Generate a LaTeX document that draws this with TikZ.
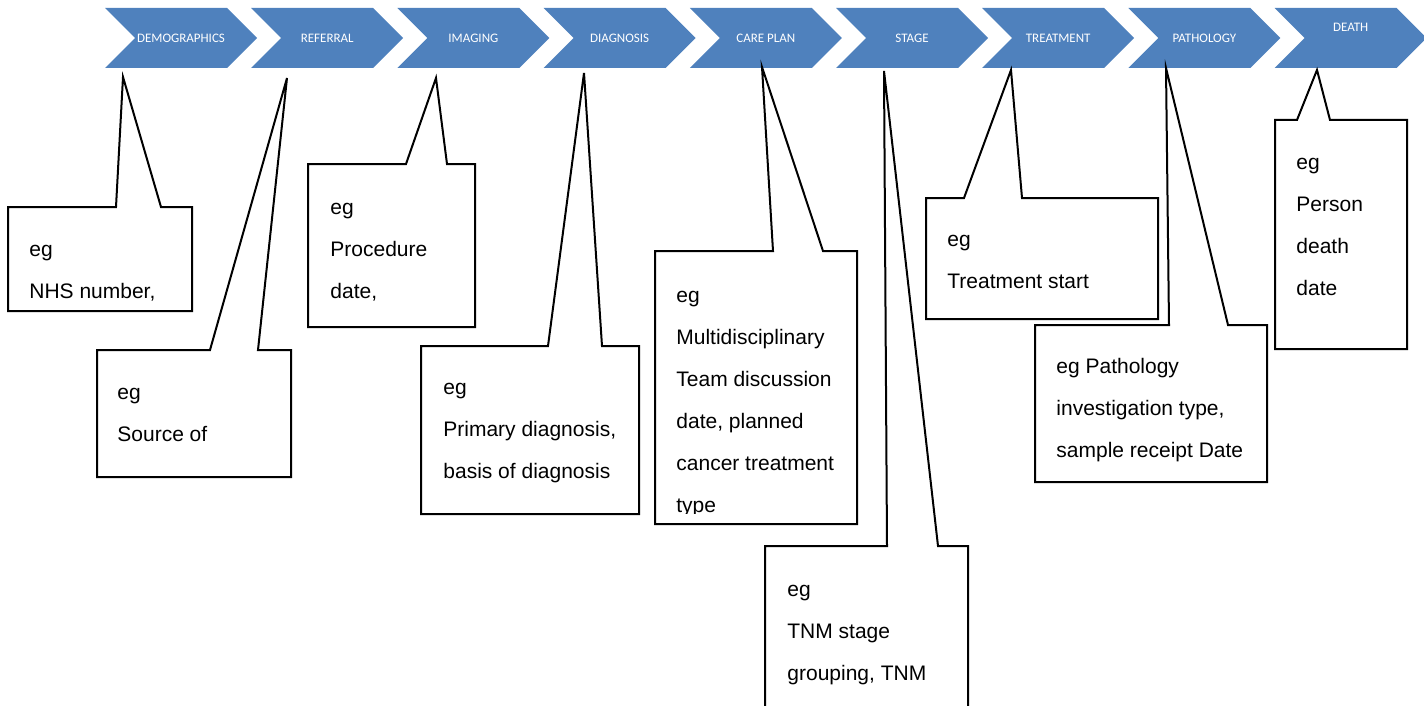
\documentclass[tikz,border=0pt]{standalone}
\usepackage{fontspec}
\setmainfont{Liberation Sans}
\newfontfamily\chevfont{Carlito}
\definecolor{chevblue}{HTML}{4F81BD}
\tikzset{
  chev/.style={fill=chevblue, draw=none},
  chevlabel/.style={text=white, font=\chevfont\fontsize{6.5}{8}\selectfont, inner sep=0pt, anchor=center},
  callbox/.style={draw=black, fill=white, line width=1pt, line join=miter},
  calltext/.style={font=\fontsize{10.5}{21}\selectfont, align=left, anchor=base west, inner sep=0pt},
}
\newcommand\mycallout[9]{%
  \draw[callbox] (#2,#3) -- (#6,#3) -- (#8,#9) -- (#7,#3) -- (#4,#3) -- (#4,#5) -- (#2,#5) -- cycle;
  \coordinate (#1tip) at (#8,#9);}
\begin{document}
\begin{tikzpicture}[x=0.5pt,y=-0.5pt]
\useasboundingbox (0,0) rectangle (1424,706);
\clip (0,0) rectangle (1424,706);
% chevrons
\foreach \i/\lab/\ly in {0/DEMOGRAPHICS/38,1/REFERRAL/38,2/IMAGING/38,3/DIAGNOSIS/38,4/CARE PLAN/38,5/STAGE/38,6/TREATMENT/38,7/PATHOLOGY/38,8/DEATH/27}{
  \pgfmathsetmacro\L{105+146.2*\i}
  \fill[chev] (\L,8) -- ({\L+122},8) -- ({\L+152},38) -- ({\L+122},68) -- (\L,68) -- ({\L+30},38) -- cycle;
  \node[chevlabel] (chev\i) at ({\L+76},\ly) {\lab};
}
% callouts
\mycallout{c1}{8}{207}{192}{311}{116}{161}{123}{77}
\mycallout{c2}{97}{350}{291}{477}{210}{258}{287}{78}
\mycallout{c3}{308}{164}{475}{327}{406}{447}{436}{78}
\mycallout{c4}{421}{346}{639}{514}{548}{602}{584}{73}
\mycallout{c5}{655}{251}{857}{524}{773}{823}{762}{67}
\mycallout{c6}{765}{546}{968}{720}{887}{938}{884}{71}
\mycallout{c7}{926}{198}{1158}{319}{964}{1022}{1011}{70}
\mycallout{c8}{1035}{325}{1267}{482}{1169}{1228}{1166}{68}
\mycallout{c9}{1275}{120}{1407}{349}{1297}{1330}{1317}{70}
% texts (anchored at the baseline of the last line)
\node[calltext] (t1) at (29,298) {eg\\NHS number,};
\node[calltext] (t2) at (117,441) {eg\\Source of};
\node[calltext] (t3) at (330,298) {eg\\Procedure\\date,};
\node[calltext] (t4) at (443,478) {eg\\Primary diagnosis,\\basis of diagnosis};
\begin{scope}
  \clip (655,251) rectangle (857,513);
  \node[calltext] (t5) at (676,512) {eg\\Multidisciplinary\\Team discussion\\date, planned\\cancer treatment\\type};
\end{scope}
\node[calltext] (t6) at (787,680) {eg\\TNM stage\\grouping, TNM};
\node[calltext] (t7) at (947,288) {eg\\Treatment start};
\node[calltext] (t8) at (1056,457) {eg Pathology\\investigation type,\\sample receipt Date};
\node[calltext] (t9) at (1296,295) {eg\\Person\\death\\date};
\end{tikzpicture}
\end{document}
